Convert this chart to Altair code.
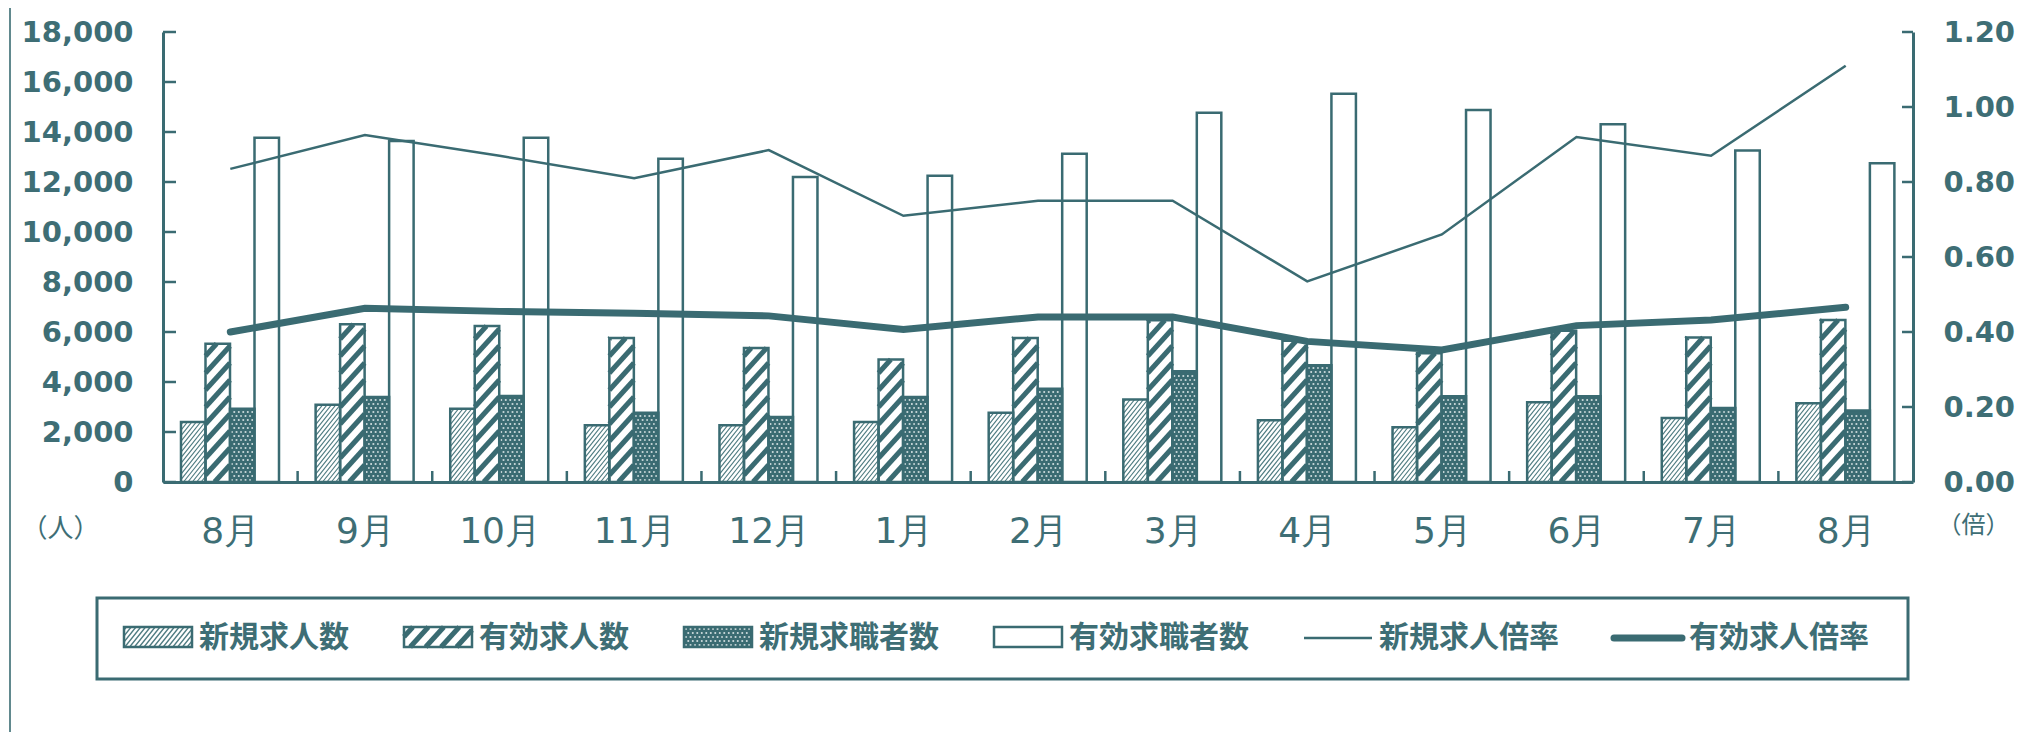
import json
import altair as alt
import pandas as pd

# ---------------- data ----------------
months = ["8月", "9月", "10月", "11月", "12月", "1月", "2月", "3月", "4月", "5月", "6月", "7月", "8月"]
new_openings = [2400, 3090, 2930, 2270, 2270, 2400, 2770, 3300, 2470, 2190, 3190, 2560, 3150]
active_openings = [5530, 6310, 6240, 5760, 5360, 4900, 5760, 6470, 5650, 5150, 6050, 5780, 6480]
new_seekers = [2930, 3400, 3440, 2770, 2600, 3400, 3730, 4430, 4670, 3430, 3430, 2960, 2860]
active_seekers = [13770, 13640, 13770, 12930, 12200, 12250, 13130, 14770, 15530, 14880, 14310, 13260, 12750]
new_ratio = [0.835, 0.925, 0.87, 0.81, 0.885, 0.71, 0.75, 0.75, 0.535, 0.66, 0.92, 0.87, 1.11]
active_ratio = [0.40, 0.463, 0.455, 0.45, 0.443, 0.407, 0.44, 0.44, 0.375, 0.352, 0.417, 0.432, 0.466]
bar_series = ["新規求人数", "有効求人数", "新規求職者数", "有効求職者数"]
line_series = ["新規求人倍率", "有効求人倍率"]
left_ticks = [0, 2000, 4000, 6000, 8000, 10000, 12000, 14000, 16000, 18000]
right_ticks = [0.0, 0.2, 0.4, 0.6, 0.8, 1.0, 1.2]
unit_left = "（人）"
unit_right = "（倍）"

# ---------------- style / layout ----------------
TEAL = "#3a6b72"
TEXT = "#3e6e75"
NUM_FONT = "DejaVu Sans"
CJK_FONT = "Noto Sans CJK JP"
W, H = 1750, 450
N = len(months)
STEP = W / N
UX = N / W            # x units per pixel
UY = 18000 / H        # left-y units per pixel
PAD_U = 18 * UX
BW_U = 24.5 * UX

bar_rows = []
for k, vals in enumerate([new_openings, active_openings, new_seekers, active_seekers]):
    for i, v in enumerate(vals):
        bar_rows.append({"idx": i, "series": bar_series[k], "k": k, "value": v})
bars_df = pd.DataFrame(bar_rows)

ratio_rows = []
for s, vals in zip(line_series, [new_ratio, active_ratio]):
    for i, v in enumerate(vals):
        ratio_rows.append({"idx": i, "series": s, "value": v})
ratio_df = pd.DataFrame(ratio_rows)

XS = alt.Scale(domain=[0, N], nice=False, zero=False)
YS = alt.Scale(domain=[0, 18000], nice=False, zero=False)
RS = alt.Scale(domain=[0, 1.2], nice=False, zero=False)
FILL_SCALE = alt.Scale(domain=bar_series, range=["#ffffff", "#ffffff", TEAL, "#ffffff"])


def hatch(base, m, S, sw, xs, ys, color=TEAL, opacity=1.0):
    w = "(datum.xr - datum.xl)"
    return (
        base.transform_calculate(hn=f"ceil(((datum.yt - datum.yb) + {m}*{w})/{S}) + 1")
        .transform_calculate(hj="sequence(0, datum.hn)")
        .transform_flatten(["hj"])
        .transform_calculate(y0=f"datum.yb - {m}*{w} + datum.hj*{S}")
        .transform_calculate(ys="max(datum.y0, datum.yb)",
                             ye=f"min(datum.y0 + {m}*{w}, datum.yt)")
        .transform_filter("datum.ye > datum.ys")
        .transform_calculate(xs=f"datum.xl + (datum.ys - datum.y0)/{m}",
                             xe=f"datum.xl + (datum.ye - datum.y0)/{m}")
        .mark_rule(color=color, strokeWidth=sw, strokeCap="butt", opacity=opacity)
        .encode(x=alt.X("xs:Q", scale=xs, axis=None), x2="xe:Q",
                y=alt.Y("ys:Q", scale=ys, axis=None), y2="ye:Q")
    )


def dots(base, dx, dy, xs, ys):
    return (
        base.transform_calculate(nr=f"floor((datum.yt - datum.yb)/{dy})",
                                 nc=f"floor((datum.xr - datum.xl)/{dx}) + 1")
        .transform_calculate(r="sequence(0, datum.nr)")
        .transform_flatten(["r"])
        .transform_calculate(c="sequence(0, datum.nc)")
        .transform_flatten(["c"])
        .transform_calculate(px=f"datum.xl + {dx}*(datum.c + 0.45 + 0.5*(datum.r % 2))",
                             py=f"datum.yb + {dy}*(datum.r + 0.5)")
        .transform_filter(f"datum.px < datum.xr - {dx}*0.3")
        .mark_square(size=3, color="#f2f7f7", opacity=0.85)
        .encode(x=alt.X("px:Q", scale=xs, axis=None), y=alt.Y("py:Q", scale=ys, axis=None))
    )


# ---------------- bars ----------------
base = (alt.Chart(bars_df)
        .transform_calculate(xl=f"datum.idx + {PAD_U} + datum.k * {BW_U}")
        .transform_calculate(xr=f"datum.xl + {BW_U}", yb="0", yt="datum.value"))

months_js = json.dumps(months, ensure_ascii=False)
x_axis = alt.Axis(values=list(range(N + 1)),
                  labelExpr=f"datum.value < {N} ? {months_js}[datum.value] : ''",
                  labelOffset=STEP / 2, ticks=False, tickSize=0,
                  domainColor=TEAL, domainWidth=3,
                  labelFont=NUM_FONT, labelFontSize=36, labelColor=TEXT, labelPadding=32,
                  labelOverlap=False, labelFlush=False, grid=False, title=None)
y_left = alt.Axis(orient="left", values=left_ticks, format=",d", ticks=False, tickSize=0,
                  domainColor=TEAL, domainWidth=3,
                  labelFont=NUM_FONT, labelFontSize=29, labelFontWeight="bold", labelColor=TEXT,
                  labelPadding=30, grid=False,
                  title=unit_left, titleAngle=0, titleX=-103, titleY=496, titleAlign="center",
                  titleBaseline="middle", titleFont=CJK_FONT, titleFontSize=26,
                  titleFontWeight="normal", titleColor=TEXT)
y_right = alt.Axis(orient="right", values=right_ticks, format=".2f", ticks=False, tickSize=0,
                   domainColor=TEAL, domainWidth=3,
                   labelFont=NUM_FONT, labelFontSize=29, labelFontWeight="bold", labelColor=TEXT,
                   labelPadding=30, grid=False,
                   title=unit_right, titleAngle=0, titleX=60, titleY=493, titleAlign="center",
                   titleBaseline="middle", titleFont=CJK_FONT, titleFontSize=24,
                   titleFontWeight="normal", titleColor=TEXT)

bar_fill = base.mark_rect(strokeWidth=0).encode(
    x=alt.X("xl:Q", scale=XS, axis=x_axis), x2="xr:Q",
    y=alt.Y("yt:Q", scale=YS, axis=y_left), y2="yb:Q",
    fill=alt.Fill("series:N", scale=FILL_SCALE, legend=None))
light = hatch(base.transform_filter("datum.k == 0"), 1.25 * UY / UX, 5.5 * UY, 1.2, XS, YS, opacity=0.9)
bold = hatch(base.transform_filter("datum.k == 1"), 1.1 * UY / UX, 17 * UY, 5, XS, YS)
dotted = dots(base.transform_filter("datum.k == 2"), 4.5 * UX, 4 * UY, XS, YS)
outline = base.mark_rect(fillOpacity=0, stroke=TEAL, strokeWidth=2.5).encode(
    x=alt.X("xl:Q", scale=XS, axis=None), x2="xr:Q",
    y=alt.Y("yt:Q", scale=YS, axis=None), y2="yb:Q")

# inward tick marks for the left axis and the category boundaries
lt_df = pd.DataFrame({"v": left_ticks})
left_tick_marks = (alt.Chart(lt_df)
                   .transform_calculate(x0="0", x1=f"{13 * UX}")
                   .mark_rule(color=TEAL, strokeWidth=2.5)
                   .encode(x=alt.X("x0:Q", scale=XS, axis=None), x2="x1:Q",
                           y=alt.Y("v:Q", scale=YS, axis=None)))
bt_df = pd.DataFrame({"b": list(range(1, N))})
band_tick_marks = (alt.Chart(bt_df)
                   .transform_calculate(y0="0", y1=f"{11 * UY}")
                   .mark_rule(color=TEAL, strokeWidth=2.5)
                   .encode(x=alt.X("b:Q", scale=XS, axis=None),
                           y=alt.Y("y0:Q", scale=YS, axis=None), y2="y1:Q"))

# ---------------- ratio lines ----------------
lbase = alt.Chart(ratio_df).transform_calculate(xc="datum.idx + 0.5")
thin = lbase.transform_filter(f"datum.series == '{line_series[0]}'").mark_line(
    color=TEAL, strokeWidth=2.5).encode(
    x=alt.X("xc:Q", scale=XS, axis=None), y=alt.Y("value:Q", scale=RS, axis=y_right))
thick = lbase.transform_filter(f"datum.series == '{line_series[1]}'").mark_line(
    color=TEAL, strokeWidth=7, strokeCap="round").encode(
    x=alt.X("xc:Q", scale=XS, axis=None), y=alt.Y("value:Q", scale=RS, axis=None))
rt_df = pd.DataFrame({"v": right_ticks})
right_tick_marks = (alt.Chart(rt_df)
                    .transform_calculate(x0=f"{N - 11 * UX}", x1=f"{N}")
                    .mark_rule(color=TEAL, strokeWidth=2.5)
                    .encode(x=alt.X("x0:Q", scale=XS, axis=None), x2="x1:Q",
                            y=alt.Y("v:Q", scale=RS, axis=None)))

# ---------------- custom legend (pixel scales) ----------------
LXS = alt.Scale(domain=[0, W], nice=False, zero=False)
LYS = alt.Scale(domain=[0, H], nice=False, zero=False)
SW, GAP, FS, ITEM_GAP = 68, 7, 30, 55
legend_labels = bar_series + line_series
starts = []
sx = -39
for lab in legend_labels:
    starts.append(sx)
    sx += SW + GAP + FS * len(lab) + ITEM_GAP
legend_df = pd.DataFrame({"label": legend_labels, "k": list(range(6)), "sx": starts})
lbase2 = (alt.Chart(legend_df)
          .transform_calculate(xl="datum.sx", xr=f"datum.sx + {SW}", yb="-165", yt="-145",
                               tx=f"datum.sx + {SW + GAP}", ty="-156"))
sw_fill = lbase2.transform_filter("datum.k < 4").mark_rect(strokeWidth=0).encode(
    x=alt.X("xl:Q", scale=LXS, axis=None), x2="xr:Q",
    y=alt.Y("yb:Q", scale=LYS, axis=None), y2="yt:Q",
    fill=alt.Fill("label:N", scale=FILL_SCALE, legend=None))
sw_light = hatch(lbase2.transform_filter("datum.k == 0"), 1.25, 6, 1.3, LXS, LYS, opacity=0.9)
sw_bold = hatch(lbase2.transform_filter("datum.k == 1"), 1.1, 17, 5, LXS, LYS)
sw_dots = dots(lbase2.transform_filter("datum.k == 2"), 4.5, 4, LXS, LYS)
sw_out = lbase2.transform_filter("datum.k < 4").mark_rect(fillOpacity=0, stroke=TEAL, strokeWidth=2.5).encode(
    x=alt.X("xl:Q", scale=LXS, axis=None), x2="xr:Q",
    y=alt.Y("yb:Q", scale=LYS, axis=None), y2="yt:Q")
sw_thin = lbase2.transform_filter("datum.k == 4").mark_rule(color=TEAL, strokeWidth=2.5).encode(
    x=alt.X("xl:Q", scale=LXS, axis=None), x2="xr:Q", y=alt.Y("ty:Q", scale=LYS, axis=None))
sw_thick = lbase2.transform_filter("datum.k == 5").mark_rule(color=TEAL, strokeWidth=7, strokeCap="round").encode(
    x=alt.X("xl:Q", scale=LXS, axis=None), x2="xr:Q", y=alt.Y("ty:Q", scale=LYS, axis=None))
sw_text = lbase2.mark_text(align="left", baseline="middle", font=CJK_FONT, fontSize=FS,
                           color=TEXT, fontWeight="bold").encode(
    x=alt.X("tx:Q", scale=LXS, axis=None), y=alt.Y("ty:Q", scale=LYS, axis=None), text="label:N")

frame_df = pd.DataFrame({"bx0": [-66], "bx1": [1745], "by0": [-197], "by1": [-116],
                         "fx": [-153], "fy0": [-250], "fy1": [482]})
box = alt.Chart(frame_df).mark_rect(fillOpacity=0, stroke=TEAL, strokeWidth=3).encode(
    x=alt.X("bx0:Q", scale=LXS, axis=None), x2="bx1:Q",
    y=alt.Y("by0:Q", scale=LYS, axis=None), y2="by1:Q")
frame = alt.Chart(frame_df).mark_rule(color=TEAL, strokeWidth=2, opacity=0.8).encode(
    x=alt.X("fx:Q", scale=LXS, axis=None),
    y=alt.Y("fy0:Q", scale=LYS, axis=None), y2="fy1:Q")

layers = [bar_fill, light, bold, dotted, outline, left_tick_marks, band_tick_marks,
          thin, thick, right_tick_marks,
          box, frame, sw_fill, sw_light, sw_bold, sw_dots, sw_out, sw_thin, sw_thick, sw_text]

chart = (alt.layer(*layers)
         .resolve_scale(x="independent", y="independent")
         .properties(width=W, height=H, background="white",
                     autosize=alt.AutoSizeParams(type="none"),
                     padding={"left": 155, "top": 24, "right": 103, "bottom": 250})
         .configure_view(stroke=None))

chart.save("out.html", embed_options={"renderer": "svg", "actions": False})
